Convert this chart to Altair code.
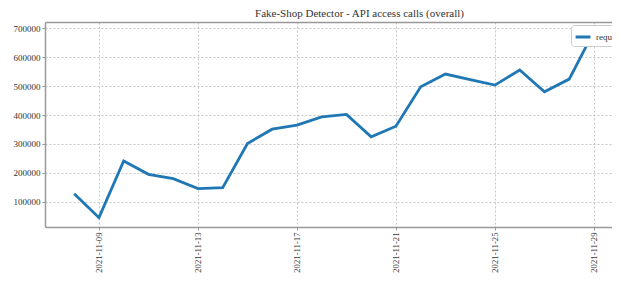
import altair as alt
import pandas as pd

dates = ["2021-11-08", "2021-11-09", "2021-11-10", "2021-11-11", "2021-11-12",
         "2021-11-13", "2021-11-14", "2021-11-15", "2021-11-16", "2021-11-17",
         "2021-11-18", "2021-11-19", "2021-11-20", "2021-11-21", "2021-11-22",
         "2021-11-23", "2021-11-24", "2021-11-25", "2021-11-26", "2021-11-27",
         "2021-11-28", "2021-11-29"]
requests = [127600, 44300, 240800, 194600, 179700, 145000, 148500, 301200,
            350900, 364800, 393600, 401900, 324200, 361300, 497800, 541900,
            522800, 503700, 555800, 480400, 524500, 690000]
series = ["requests"] * len(dates)
tick_dates = ["2021-11-09", "2021-11-13", "2021-11-17", "2021-11-21",
              "2021-11-25", "2021-11-29"]
y_ticks = [100000, 200000, 300000, 400000, 500000, 600000, 700000]

df = pd.DataFrame({"date": dates, "requests": requests, "series": series})

DAY = 86400000
def ms(d):
    return int(pd.Timestamp(d, tz="UTC").timestamp() * 1000)

W = 567
PX_PER_DAY = 24.75
x_lo = ms(dates[0]) - 1.18 * DAY
x_dom = [x_lo, x_lo + W / PX_PER_DAY * DAY]
lo, hi = min(requests), max(requests)
pad = 0.05 * (hi - lo)
y_dom = [lo - pad, hi + pad]

FONT = "Liberation Serif"
SPINE = "#999999"

x_scale = alt.Scale(type="utc", domain=x_dom, nice=False)
y_scale = alt.Scale(domain=y_dom, nice=False, zero=False)

base = alt.Chart(df)

line = base.mark_line(strokeWidth=2.8).encode(
    x=alt.X("date:T", scale=x_scale,
            axis=alt.Axis(values=[ms(d) for d in tick_dates],
                          labelExpr="utcFormat(datum.value, '%Y-%m-%d')",
                          labelAngle=270, labelAlign="right", labelBaseline="middle",
                          title=None, domain=True, domainColor=SPINE, domainWidth=1.5,
                          tickSize=3, tickColor=SPINE,
                          labelPadding=2, gridDash=[2, 2], gridColor="#b8b8b8",
                          gridWidth=0.8, labelFont=FONT, labelFontSize=8.7,
                          labelColor="#333", labelOverlap=False)),
    y=alt.Y("requests:Q", scale=y_scale,
            axis=alt.Axis(values=y_ticks, format="d", title=None, domain=True,
                          domainColor=SPINE, domainWidth=1.5,
                          tickSize=3, tickColor=SPINE, labelPadding=2,
                          gridDash=[2, 2], gridColor="#b8b8b8", gridWidth=0.8,
                          labelFont=FONT, labelFontSize=9, labelColor="#333")),
    color=alt.Color("series:N",
                    scale=alt.Scale(range=["#1f77b4"]),
                    legend=alt.Legend(title=None, orient="none", legendX=526, legendY=3,
                                      symbolType="stroke", symbolStrokeWidth=3,
                                      symbolSize=220, labelFont=FONT, labelFontSize=9,
                                      labelColor="#333", padding=3,
                                      strokeColor="#cccccc", fillColor="white",
                                      cornerRadius=3)),
)

top_spine = base.mark_line(opacity=0).encode(
    x=alt.X("date:T", scale=x_scale,
            axis=alt.Axis(orient="top", labels=False, ticks=False, grid=False,
                          domain=True, domainColor=SPINE, domainWidth=1.5, title=None)),
    y=alt.Y("requests:Q", scale=y_scale, axis=None),
)

chart = alt.layer(line, top_spine).resolve_axis(
    x="independent", y="independent"
).properties(
    width=W,
    height=205,
    title=alt.TitleParams("Fake-Shop Detector - API access calls (overall)",
                          font=FONT, fontSize=11, fontWeight="normal",
                          color="#333", anchor="middle", dx=31, offset=3),
    autosize=alt.AutoSizeParams(type="none"),
    padding={"left": 37, "top": 14, "right": 0, "bottom": 46},
).configure_view(stroke=None)

chart.save("out.html", embed_options={"renderer": "svg", "actions": False})
